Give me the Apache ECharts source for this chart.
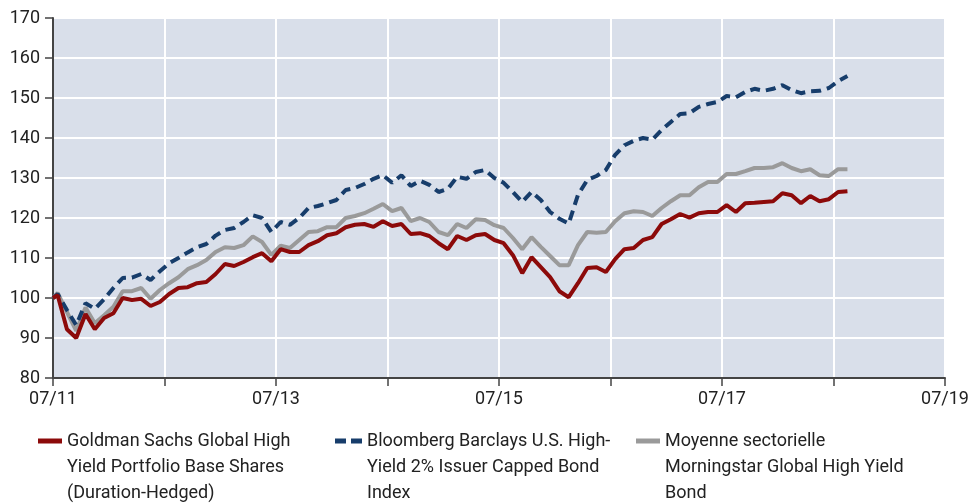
<!DOCTYPE html>
<html>
<head>
<meta charset="utf-8">
<script src="https://cdn.jsdelivr.net/npm/echarts@6/dist/echarts.min.js"></script>
<style>
  html, body { margin: 0; padding: 0; background: #fff; }
  #chart { width: 977px; height: 503px; }
</style>
</head>
<body>
<div id="chart"></div>
<script>
// valeurs (base 100 en 07/11), un point par mois
var goldman = [100, 100.7, 92.2, 90, 96, 92.2, 95, 96.2, 100, 99.5, 99.8, 98, 99, 101, 102.5, 102.7,
  103.7, 104, 106, 108.5, 108, 109, 110.2, 111.2, 109.2, 112.2, 111.5, 111.5, 113.2, 114.2, 115.7,
  116.2, 117.7, 118.3, 118.5, 117.8, 119.2, 118, 118.5, 116, 116.2, 115.5, 113.7, 112.2, 115.5, 114.5,
  115.7, 116, 114.5, 113.7, 110.7, 106.2, 110.2, 107.7, 105.2, 101.7, 100.2, 103.7, 107.5, 107.7,
  106.5, 109.7, 112.2, 112.5, 114.5, 115.2, 118.5, 119.7, 121, 120.1, 121.2, 121.5, 121.5, 123.2,
  121.5, 123.7, 123.8, 124, 124.2, 126.2, 125.7, 123.7, 125.5, 124.2, 124.7, 126.5, 126.7];

var bloomberg = [100, 101, 97, 93.2, 98.7, 97.3, 99.7, 102.5, 105, 105.1, 106, 104.5, 106.7, 108.7,
  110, 111.4, 112.7, 113.5, 115.6, 117, 117.5, 119, 120.7, 120, 116.5, 119, 118.3, 120, 122.5, 123,
  123.7, 124.5, 127, 127.5, 128.5, 129.8, 130.7, 128.8, 130.7, 128, 129.3, 128.3, 126.5, 127.3, 130.3,
  129.8, 131.5, 132, 130, 128.8, 126.5, 124, 126.5, 124.5, 121.5, 119.8, 118.6, 125.8, 129.5, 130.5,
  132, 135.8, 138.2, 139.3, 140, 139.6, 142, 144, 146, 146.2, 147.8, 148.5, 149, 150.5, 150.2, 151.5,
  152.3, 151.8, 152.3, 153.2, 152, 151.2, 151.7, 151.8, 152.5, 154.2, 155.5];

var morningstar = [100, 101.3, 96.5, 91.8, 97.6, 93.7, 95.7, 97.8, 101.7, 101.7, 102.5, 99.8, 102,
  103.7, 105.2, 107.2, 108.2, 109.5, 111.5, 112.7, 112.5, 113.2, 115.4, 114, 110.8, 113.1, 112.5,
  114.5, 116.5, 116.7, 117.7, 117.7, 120, 120.5, 121.2, 122.3, 123.5, 121.7, 122.5, 119.2, 120, 119,
  116.5, 115.7, 118.5, 117.5, 119.7, 119.5, 118.2, 117.5, 115, 112.2, 115.2, 112.8, 110.5, 108.2,
  108.2, 113.2, 116.5, 116.3, 116.5, 119.2, 121.2, 121.7, 121.5, 120.5, 122.5, 124.2, 125.7, 125.7,
  127.7, 129, 129, 131, 131, 131.7, 132.5, 132.5, 132.7, 133.7, 132.5, 131.7, 132.2, 130.7, 130.5,
  132.2, 132.2];

var seriesNames = [
  'Goldman Sachs Global High\nYield Portfolio Base Shares\n(Duration-Hedged)',
  'Bloomberg Barclays U.S. High-\nYield 2% Issuer Capped Bond\nIndex',
  'Moyenne sectorielle\nMorningstar Global High Yield\nBond'
];
var colors = ['#8c0a0a', '#173d6b', '#9a9a9a'];

// mois depuis 07/11 : départ, puis un point en milieu de mois
var months = [0];
for (var i = 1; i < goldman.length; i++) {
  months.push(i - 0.5);
}

function pairs(values) {
  return values.map(function (v, i) { return [months[i], v]; });
}

var font = '"Liberation Sans Narrow", "Arial Narrow", Roboto, sans-serif';

function legendItem(idx, left, width, icon) {
  return {
    data: [seriesNames[idx]],
    left: left,
    top: 376,
    padding: 0,
    icon: icon,
    itemWidth: width,
    itemHeight: 5,
    selectedMode: false,
    // deux lignes vides devant : l'icône tombe sur la première ligne
    formatter: function (name) { return '\n\n' + name; },
    textStyle: {
      fontFamily: font,
      fontSize: 18,
      color: '#222',
      lineHeight: 26
    }
  };
}

var myChart = echarts.init(document.getElementById('chart'));
myChart.setOption({
  animation: false,
  grid: {
    left: 53,
    right: 32,
    top: 18,
    bottom: 125,
    show: true,
    backgroundColor: '#d9dfea',
    borderWidth: 0
  },
  legend: [
    legendItem(0, 38, 24, 'rect'),
    legendItem(1, 335, 27, 'path://M0,0h11v5h-11z M16,0h11v5h-11z'),
    legendItem(2, 636, 24, 'rect')
  ],
  xAxis: {
    type: 'value',
    min: 0,
    max: 96,
    interval: 12,
    axisLine: { show: true, lineStyle: { color: '#444', width: 2 } },
    axisTick: { show: true, length: 8, lineStyle: { color: '#444', width: 1.5 } },
    splitLine: { show: true, lineStyle: { color: '#fff', width: 2 } },
    axisLabel: {
      fontFamily: font,
      fontSize: 18,
      color: '#222',
      margin: 12,
      showMaxLabel: true,
      formatter: function (v) {
        var y = v / 12;
        return y % 2 === 0 ? '07/' + (11 + y) : '';
      }
    }
  },
  yAxis: {
    type: 'value',
    min: 80,
    max: 170,
    interval: 10,
    axisLine: { show: true, lineStyle: { color: '#444', width: 2 } },
    axisTick: { show: true, length: 8, lineStyle: { color: '#444', width: 1.5 } },
    splitLine: { show: true, lineStyle: { color: '#fff', width: 2 } },
    axisLabel: {
      fontFamily: font,
      fontSize: 18,
      color: '#222',
      margin: 13
    }
  },
  series: [
    {
      name: seriesNames[0],
      type: 'line',
      data: pairs(goldman),
      showSymbol: false,
      z: 4,
      itemStyle: { color: colors[0] },
      lineStyle: { color: colors[0], width: 4 }
    },
    {
      name: seriesNames[1],
      type: 'line',
      data: pairs(bloomberg),
      showSymbol: false,
      z: 3,
      itemStyle: { color: colors[1] },
      lineStyle: { color: colors[1], width: 4, type: [10, 6] }
    },
    {
      name: seriesNames[2],
      type: 'line',
      data: pairs(morningstar),
      showSymbol: false,
      z: 2,
      itemStyle: { color: colors[2] },
      lineStyle: { color: colors[2], width: 4 }
    }
  ]
});
</script>
</body>
</html>
